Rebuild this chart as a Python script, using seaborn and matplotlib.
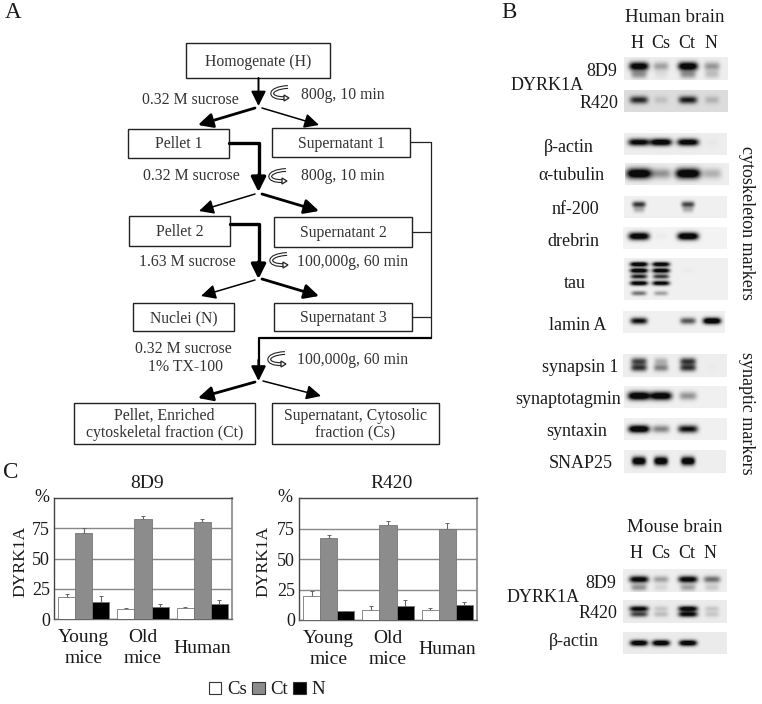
import numpy as np
import pandas as pd
import matplotlib
matplotlib.use('Agg')
import matplotlib.pyplot as plt
import seaborn as sns
from matplotlib.patches import Rectangle, FancyArrowPatch, PathPatch, Polygon
from matplotlib.path import Path

# Panel C values
groups = ['Young\nmice', 'Old\nmice', 'Human']
fractions = ['Cs', 'Ct', 'N']
d9_cs = [18, 8, 9]
d9_ct = [71, 83, 80]
d9_n = [14, 10, 12]
d9_cs_err = [2.5, 0.7, 1]
d9_ct_err = [4.5, 2.5, 2.5]
d9_n_err = [5, 2, 4]
r420_cs = [20, 8, 8]
r420_ct = [67, 78, 75]
r420_n = [7, 11.5, 12]
r420_cs_err = [4, 3.5, 2]
r420_ct_err = [2.5, 3.5, 4.5]
r420_n_err = [0.5, 5, 3]

# Panel B band strengths per lane: H, Cs, Ct, N
h_8d9 = [0.9, 0.25, 0.95, 0.28]
h_8d9_low = [0.3, 0.05, 0.3, 0.15]
h_r420 = [0.65, 0.1, 0.7, 0.15]
h_actin = [0.85, 0.95, 0.9, 0.02]
h_tubulin = [1.0, 0.3, 1.0, 0.2]
h_nf200 = [0.6, 0.0, 0.55, 0.0]
nf200_low = [0.2, 0.0, 0.2, 0.0]
h_drebrin = [0.95, 0.02, 1.0, 0.0]
tau_1 = [0.95, 0.9, 0.0, 0.0]
tau_2 = [0.95, 0.9, 0.02, 0.0]
tau_3 = [0.7, 0.6, 0.0, 0.0]
tau_4 = [0.9, 0.85, 0.0, 0.0]
tau_5 = [0.4, 0.25, 0.0, 0.0]
lamin = [0.75, 0.0, 0.5, 1.0]
syn1_a = [0.55, 0.2, 0.6, 0.0]
syn1_b = [0.6, 0.35, 0.6, 0.01]
sytag = [1.0, 0.95, 0.3, 0.0]
stx = [1.0, 0.35, 0.75, 0.0]
snap = [1.0, 1.0, 1.0, 0.0]
m_8d9 = [0.85, 0.25, 0.85, 0.42]
m_8d9_low = [0.3, 0.08, 0.25, 0.12]
m_r420_a = [0.8, 0.12, 0.85, 0.12]
m_r420_b = [0.55, 0.15, 0.8, 0.12]
m_actin = [0.95, 0.95, 0.95, 0.0]

lane_px = [639, 661, 688, 712]

sns.set_theme(style='white')
plt.rcParams['font.family'] = ['Liberation Serif', 'DejaVu Serif']
W, H = 762, 704
fig = plt.figure(figsize=(W / 100, H / 100), dpi=100, facecolor='white')

# overlay in picture pixels, used for the flow chart and the labels
canvas = fig.add_axes([0, 0, 1, 1], zorder=0)
canvas.set_xlim(0, W)
canvas.set_ylim(H, 0)
canvas.axis('off')


def label(x, y, s, px=18, color='#1a1a1a', **kw):
    canvas.text(x, y + 1, s, fontsize=px * 0.72, color=color, ha='center', va='center', **kw)


def box(x0, y0, x1, y1, s):
    canvas.add_patch(Rectangle((x0, y0), x1 - x0, y1 - y0, fill=False, ec='#222222', lw=1.0))
    label((x0 + x1) / 2, (y0 + y1) / 2, s, px=15.8, color='#333333', linespacing=1.1)


def arrow(p0, p1, lw):
    canvas.add_patch(FancyArrowPatch(p0, p1, arrowstyle='-|>,head_length=0.8,head_width=0.4',
                                     mutation_scale=11, lw=lw, color='black', shrinkA=0, shrinkB=0))


def spin(x, y):
    # centrifuge mark: a hollow hook with a small head
    band = Path([(x + 8, y - 6), (x - 13, y - 5), (x - 12, y + 6), (x + 5, y + 5)],
                [Path.MOVETO, Path.CURVE4, Path.CURVE4, Path.CURVE4])
    canvas.add_patch(PathPatch(band, fill=False, ec='#222222', lw=2.8, capstyle='butt'))
    canvas.add_patch(PathPatch(band, fill=False, ec='white', lw=1.2, capstyle='butt'))
    canvas.add_patch(Polygon([(x + 4, y + 2), (x + 9, y + 5), (x + 4, y + 8)], fc='white', ec='#222222', lw=0.9))


box(186, 43, 330, 78, 'Homogenate (H)')
box(128, 129, 229, 158, 'Pellet 1')
box(272, 128, 410, 157, 'Supernatant 1')
box(129, 216, 230, 246, 'Pellet 2')
box(274, 217, 412, 247, 'Supernatant 2')
box(133, 303, 234, 331, 'Nuclei (N)')
box(274, 303, 412, 331, 'Supernatant 3')
box(74, 403, 255, 444, 'Pellet, Enriched\ncytoskeletal fraction (Ct)')
box(272, 403, 439, 444, 'Supernatant, Cytosolic\nfraction (Cs)')

canvas.plot([410, 431, 431], [142, 142, 338], color='#222222', lw=0.9)
canvas.plot([412, 431], [232, 232], color='#222222', lw=0.9)
canvas.plot([412, 431], [317, 317], color='#222222', lw=0.9)
canvas.plot([431, 258.5, 258.5], [338, 338, 370], color='black', lw=1.6)
canvas.plot([229, 258.5, 258.5], [143, 143, 180], color='black', lw=2.4)
canvas.plot([230, 258.5, 258.5], [224, 224, 268], color='black', lw=2.4)

arrow((258.5, 78), (258.5, 106), 1.4)
arrow((255, 108), (198, 125), 2.0)
arrow((262, 108), (319, 125), 1.1)
arrow((258.5, 175), (258.5, 192), 2.4)
arrow((255, 194), (199, 211), 1.1)
arrow((262, 194), (319, 211), 2.0)
arrow((258.5, 262), (258.5, 279), 2.4)
arrow((255, 280), (201, 296), 1.1)
arrow((262, 279), (319, 296), 2.0)
arrow((258.5, 360), (258.5, 381), 1.6)
arrow((255, 382), (198, 398), 2.0)
arrow((263, 381), (321, 396), 1.1)

for sx, sy in [(280, 93), (278, 176), (279, 260), (277, 359)]:
    spin(sx, sy)

for x, y, s in [(190, 99, '0.32 M sucrose'), (343, 94, '800g, 10 min'),
                (191, 175, '0.32 M sucrose'), (343, 175, '800g, 10 min'),
                (187, 261, '1.63 M sucrose'), (353, 261, '100,000g, 60 min'),
                (183, 348, '0.32 M sucrose'), (185, 366, '1% TX-100'),
                (353, 359, '100,000g, 60 min')]:
    label(x, y, s, px=15.8, color='#333333')

label(13, 12, 'A', px=23)
label(509, 12, 'B', px=23)
label(11, 471, 'C', px=23)


# Panel B blots
def blot(x0, y0, x1, y1, bands, bg=0.93, hw=10, sy=3.0):
    w, h = x1 - x0, y1 - y0
    xx, yy = np.meshgrid(np.arange(w) + x0 + 0.5, np.arange(h) + y0 + 0.5)
    dark = np.zeros((h, w))
    for frac, lanes in bands:
        for cx, amp in zip(lane_px, lanes):
            half = hw * (0.55 + 0.45 * amp ** 0.5)
            dark += amp * np.exp(-((xx - cx) / half) ** 4 - ((yy - y0 - frac * h) / sy) ** 2)
    img = pd.DataFrame(bg - (bg - 0.04) * np.clip(1.35 * dark, 0, 1))
    ax = fig.add_axes([x0 / W, 1 - y1 / H, w / W, h / H], zorder=1)
    sns.heatmap(img, ax=ax, cmap='gray', vmin=0, vmax=1, cbar=False,
                xticklabels=False, yticklabels=False)
    return ax


blot(624, 57, 728, 80, [(0.4, h_8d9), (0.75, h_8d9_low)], sy=4.2)
blot(624, 90, 728, 112, [(0.45, h_r420)], bg=0.86, sy=3.8)
blot(624, 133, 727, 155, [(0.42, h_actin)], hw=11, sy=3.6)
blot(625, 163, 729, 185, [(0.48, h_tubulin)], hw=12.5, sy=5.2)
blot(624, 196, 727, 218, [(0.38, h_nf200), (0.62, nf200_low)], bg=0.94, hw=7.5, sy=3.0)
blot(623, 227, 727, 249, [(0.42, h_drebrin)], bg=0.95, hw=10.5, sy=3.8)
blot(624, 258, 728, 300, [(0.15, tau_1), (0.3, tau_2), (0.44, tau_3), (0.6, tau_4), (0.84, tau_5)],
     bg=0.94, hw=9, sy=2.4)
blot(623, 311, 725, 333, [(0.45, lamin)], bg=0.94, hw=9, sy=3.3)
blot(623, 354, 727, 377, [(0.32, syn1_a), (0.6, syn1_b)], bg=0.93, hw=9, sy=3.6)
blot(624, 386, 727, 408, [(0.45, sytag)], bg=0.94, hw=11, sy=4.2)
blot(624, 418, 727, 440, [(0.5, stx)], bg=0.94, hw=10.5, sy=3.8)
blot(624, 450, 726, 473, [(0.48, snap)], bg=0.93, hw=7, sy=4.2)
blot(623, 569, 727, 592, [(0.45, m_8d9), (0.8, m_8d9_low)], bg=0.93, sy=3.4)
blot(623, 600, 727, 623, [(0.38, m_r420_a), (0.62, m_r420_b)], bg=0.92, sy=2.8)
blot(623, 632, 727, 654, [(0.5, m_actin)], bg=0.92, hw=9, sy=3.0)

label(675, 16, 'Human brain', px=19)
label(675, 527, 'Mouse brain', px=19)
for y, labs_x in [(42, [637, 661, 687, 711]), (553, [636, 661, 687, 710])]:
    for x, s in zip(labs_x, ['H', 'Cs', 'Ct', 'N']):
        label(x, y, s)

for x, y, s in [(602, 71, '8D9'), (547, 85, 'DYRK1A'), (599, 102, 'R420'),
                (569, 147, 'β-actin'), (571, 175, 'α-tubulin'), (575, 208, 'nf-200'),
                (573, 241, 'drebrin'), (575, 282, 'tau'), (578, 324, 'lamin A'),
                (580, 366, 'synapsin 1'), (568, 398, 'synaptotagmin'), (577, 430, 'syntaxin'),
                (581, 463, 'SNAP25'), (601, 583, '8D9'), (543, 596, 'DYRK1A'),
                (598, 613, 'R420'), (574, 641, 'β-actin')]:
    label(x, y, s)
label(747, 222, 'cytoskeleton markers', rotation=270)
label(747, 412, 'synaptic markers', rotation=270)

# Panel C bars
colors = {'Cs': 'white', 'Ct': '#8c8c8c', 'N': 'black'}


def bars(x0, x1, y0, y1, cs, ct, n, cs_err, ct_err, n_err, title, title_x, pct_x, dy_x):
    df = pd.DataFrame({'group': groups * 3,
                       'fraction': sum([[f] * 3 for f in fractions], []),
                       'value': cs + ct + n})
    ax = fig.add_axes([x0 / W, 1 - y1 / H, (x1 - x0) / W, (y1 - y0) / H], zorder=1)
    sns.barplot(data=df, x='group', y='value', hue='fraction', palette=colors, order=groups,
                hue_order=fractions, width=0.86, gap=0, edgecolor='#777777', linewidth=0.6,
                errorbar=None, legend=False, ax=ax, zorder=3)
    errs = cs_err + ct_err + n_err
    for patch, val, e in zip(ax.patches, cs + ct + n, errs):
        ax.errorbar(patch.get_x() + patch.get_width() / 2, val, yerr=[[0], [e]], color='#666666',
                    lw=0.8, capsize=1.2, capthick=0.7, zorder=2)
    ax.set_xlim(-0.5, 2.5)
    ax.set_ylim(0, 100)
    ax.set_yticks([0, 25, 50, 75])
    ax.yaxis.grid(True, color='#888888', lw=1.0, zorder=0)
    ax.set_axisbelow(True)
    ax.set_xlabel('')
    ax.set_ylabel('')
    ax.tick_params(axis='y', labelsize=13, pad=3, length=0, labelcolor='#1a1a1a')
    ax.tick_params(axis='x', labelsize=14, pad=21, length=0, labelcolor='#1a1a1a')
    for tick in ax.get_xticklabels():
        tick.set_va('center')
        tick.set_linespacing(1.3)
    for side, c, lw in [('top', '#444444', 1.0), ('left', '#444444', 1.0),
                        ('bottom', '#666666', 1.0), ('right', '#888888', 1.2)]:
        ax.spines[side].set_visible(True)
        ax.spines[side].set_color(c)
        ax.spines[side].set_linewidth(lw)
    label(title_x, 482, title, px=19.5)
    label(pct_x, 497, '%', px=18)
    label(dy_x, 560, 'DYRK1A', px=17.5, rotation=90)
    return ax


ax_8d9 = bars(54, 232, 498, 619, d9_cs, d9_ct, d9_n, d9_cs_err, d9_ct_err, d9_n_err,
              '8D9', 147, 42, 20)
ax_r420 = bars(299, 477, 498, 620, r420_cs, r420_ct, r420_n, r420_cs_err, r420_ct_err, r420_n_err,
               'R420', 392, 285, 263)

# legend squares for panel C
handles = [Rectangle((0, 0), 1, 1, fc=colors[f], ec='#333333', lw=0.8) for f in fractions]
fig.legend(handles, fractions, loc='center', bbox_to_anchor=(267 / W, 1 - 690 / H), ncol=3, frameon=False,
           fontsize=13.5, handlelength=0.65, handleheight=0.65, handletextpad=0.3,
           columnspacing=0.3, labelcolor='#1a1a1a')

fig.savefig('out.png', dpi=100)
